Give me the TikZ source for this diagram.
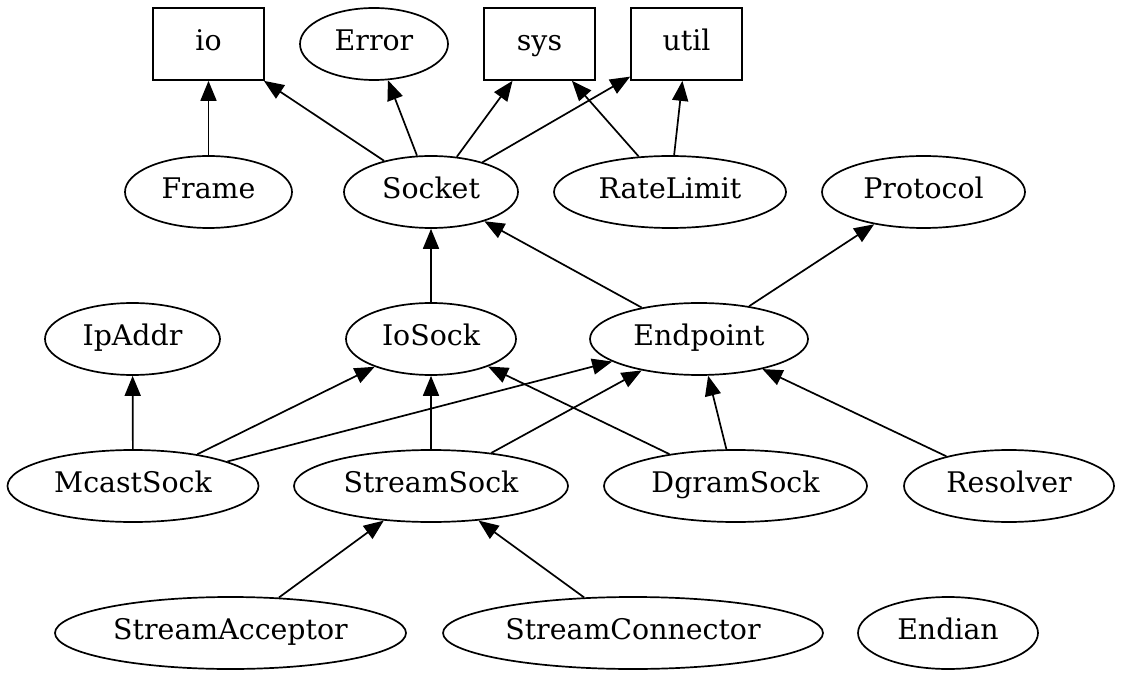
\documentclass[tikz,border=0pt]{standalone}
\usepackage{fontspec}
\setmainfont{DejaVu Serif}
\usepackage{tikz}
\usetikzlibrary{shapes.geometric, arrows.meta}

\begin{document}
\begin{tikzpicture}[x=0.5pt, y=-0.5pt, >={Triangle[length=10pt, width=8pt]},
    every node/.style={font=\fontsize{14.2}{16}\selectfont, inner sep=0pt, line width=0.85pt,
        minimum height=36pt, text height=0.81em, text depth=0.13em},
    cls/.style={ellipse, draw},
    pkg/.style={rectangle, draw, minimum width=55.5pt}]
\useasboundingbox (0,0) rectangle (1123,678);

% Packages and base types
\node[pkg] at (208.5,44) (io) {io};
\node[cls,minimum width=74pt] at (374,44) (Error) {Error};
\node[pkg] at (539.5,44) (sys) {sys};
\node[pkg] at (686.5,44) (util) {util};

% Second row
\node[cls,minimum width=83.5pt] at (208.5,192) (Frame) {Frame};
\node[cls,minimum width=87pt] at (431,192) (Socket) {Socket};
\node[cls,minimum width=116pt] at (670,192) (RateLimit) {RateLimit};
\node[cls,minimum width=101.5pt] at (923.5,192) (Protocol) {Protocol};

% Third row
\node[cls,minimum width=87.5pt] at (132.5,339) (IpAddr) {IpAddr};
\node[cls,minimum width=85pt] at (431,339) (IoSock) {IoSock};
\node[cls,minimum width=109pt] at (699,339) (Endpoint) {Endpoint};

% Socket kinds
\node[cls,minimum width=125.5pt] at (133,486) (McastSock) {McastSock};
\node[cls,minimum width=137pt] at (431,486) (StreamSock) {StreamSock};
\node[cls,minimum width=131.5pt] at (735.5,486) (DgramSock) {DgramSock};
\node[cls,minimum width=105pt] at (1009,486) (Resolver) {Resolver};

% Bottom row
\node[cls,minimum width=175.5pt] at (230.5,633) (StreamAcceptor) {StreamAcceptor};
\node[cls,minimum width=190pt] at (633,633) (StreamConnector) {StreamConnector};
\node[cls,minimum width=90pt] at (948,633) (Endian) {Endian};

% Dependencies
\foreach \src/\dst in {Frame/io, Socket/io, Socket/Error, Socket/sys, Socket/util,
    RateLimit/sys, RateLimit/util, IoSock/Socket, Endpoint/Socket, Endpoint/Protocol,
    McastSock/IpAddr, McastSock/IoSock, McastSock/Endpoint, StreamSock/IoSock,
    StreamSock/Endpoint, DgramSock/IoSock, DgramSock/Endpoint, Resolver/Endpoint,
    StreamAcceptor/StreamSock, StreamConnector/StreamSock} {
    \draw[->,line width=0.85pt] (\src) -- (\dst);
}
\end{tikzpicture}
\end{document}
